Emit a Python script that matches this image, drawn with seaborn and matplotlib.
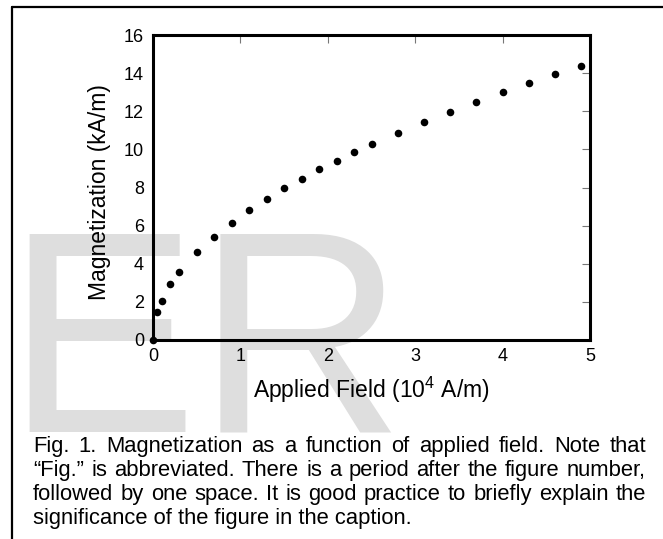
import matplotlib
matplotlib.use("Agg")
import matplotlib.pyplot as plt
from matplotlib.lines import Line2D
import seaborn as sns
import pandas as pd

# ---- data ----
applied_field = [0.0, 0.05, 0.1, 0.2, 0.3, 0.5, 0.7, 0.9, 1.1, 1.3, 1.5, 1.7, 1.9,
                 2.1, 2.3, 2.5, 2.8, 3.1, 3.4, 3.7, 4.0, 4.3, 4.6, 4.9]
magnetization = [0.0, 1.45, 2.05, 2.92, 3.55, 4.60, 5.42, 6.15, 6.82, 7.40, 7.96, 8.45, 8.95,
                 9.39, 9.84, 10.26, 10.86, 11.44, 11.98, 12.49, 13.0, 13.47, 13.94, 14.38]
x_ticks = [0, 1, 2, 3, 4, 5]
y_ticks = [0, 2, 4, 6, 8, 10, 12, 14, 16]
x_label = "Applied Field (10$^{4}$ A/m)"
y_label = "Magnetization (kA/m)"
watermark = "ER"
caption_lines = [
    "Fig. 1. Magnetization as a function of applied field. Note that",
    "\u201cFig.\u201d is abbreviated. There is a period after the figure number,",
    "followed by one space. It is good practice to briefly explain the",
    "significance of the figure in the caption.",
]

df = pd.DataFrame({"field": applied_field, "mag": magnetization})

sns.set_theme(style="white")
plt.rcParams["font.family"] = ["Liberation Sans", "DejaVu Sans"]
plt.rcParams["mathtext.fontset"] = "custom"
plt.rcParams["mathtext.rm"] = "Liberation Sans"
plt.rcParams["mathtext.it"] = "Liberation Sans"

W, H = 663, 539
fig = plt.figure(figsize=(W / 100, H / 100), dpi=100)
fig.patch.set_facecolor("white")

def fx(px):
    return px / W

def fy(py):
    return 1 - py / H

# watermark behind everything
fig.text(fx(5), fy(431), watermark, fontsize=207, color="#dedede",
         ha="left", va="baseline", zorder=-5)

# frame lines
fig.add_artist(Line2D([fx(12), 1.0], [fy(7), fy(7)], color="black", lw=1.6, zorder=1))
fig.add_artist(Line2D([fx(12), fx(12)], [fy(7), 0.0], color="black", lw=1.6, zorder=1))

ax = fig.add_axes([fx(153), fy(340), (590 - 153) / W, (340 - 35) / H])
ax.patch.set_alpha(0)

sns.scatterplot(data=df, x="field", y="mag", ax=ax, color="black", s=30,
                edgecolor="black", linewidth=0, clip_on=False, zorder=5, legend=False)

ax.set_xlim(0, 5)
ax.set_ylim(0, 16)
ax.set_xticks(x_ticks)
ax.set_yticks(y_ticks)
ax.set_xticklabels([str(t) for t in x_ticks])
ax.set_yticklabels([str(t) for t in y_ticks])
for sp in ax.spines.values():
    sp.set_visible(True)
    sp.set_color("black")
    sp.set_linewidth(2.2)
ax.tick_params(direction="in", length=5.5, width=0.8, color="#777777",
               top=True, right=True, labeltop=False, labelright=False,
               labelsize=13, labelcolor="black")
ax.tick_params(axis="x", pad=5.5)
ax.tick_params(axis="y", pad=6.5)
ax.set_xlabel(x_label, fontsize=16.5, labelpad=7, color="black")
ax.set_ylabel(y_label, fontsize=16.5, color="black")
ax.yaxis.set_label_coords(-0.0961, 0.485)

# justified caption
renderer = fig.canvas.get_renderer()
left_px, right_px = 33, 646
baselines = [452, 476, 500, 524]
cap_fs = 15.8
for i, line in enumerate(caption_lines):
    words = line.split(" ")
    y = fy(baselines[i])
    if i == len(caption_lines) - 1:
        fig.text(fx(left_px), y, line, fontsize=cap_fs, ha="left", va="baseline", color="black")
        continue
    texts = [fig.text(0, y, w, fontsize=cap_fs, ha="left", va="baseline", color="black") for w in words]
    widths = [t.get_window_extent(renderer).width for t in texts]
    gap = (right_px - left_px - sum(widths)) / (len(words) - 1)
    xpos = left_px
    for t, wd in zip(texts, widths):
        t.set_x(fx(xpos))
        xpos += wd + gap

fig.savefig("out.png", dpi=100, facecolor="white")
